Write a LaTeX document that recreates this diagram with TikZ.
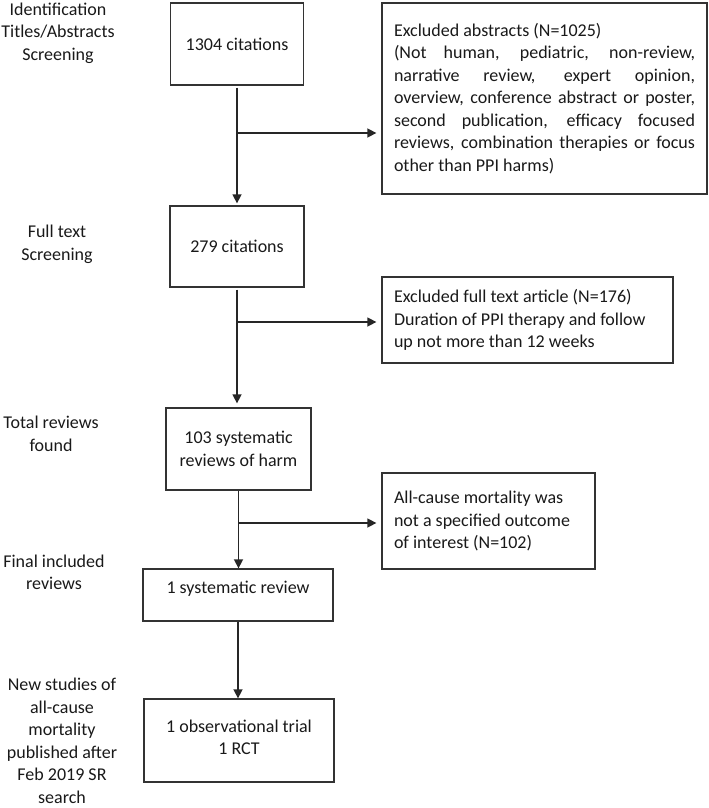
\documentclass[tikz,border=0pt]{standalone}
\usepackage{fontspec}
\setmainfont{Carlito}
\usetikzlibrary{arrows.meta}
\newcommand{\jl}[1]{\makebox[301pt][s]{\spaceskip=0.226em plus 1fil\relax #1}}
\begin{document}
\begin{tikzpicture}[x=1pt,y=-1pt,
  every node/.style={font=\fontsize{18pt}{22.5pt}\selectfont, text=black!90},
  box/.style={draw=black!80, line width=1.3pt, inner sep=0pt, align=center},
  lab/.style={align=center, inner sep=0pt},
  arr/.style={draw=black!85, line width=1.5pt, -{Triangle[length=9pt,width=9pt]}}]
\useasboundingbox (0,0) rectangle (709,808);
% left labels
\node[lab] (l1) at (58,33) {Identification\\Titles/Abstracts\\Screening};
\node[lab] (l2) at (57,244.5) {Full text\\Screening};
\node[lab] (l3) at (51,434) {Total reviews\\found};
\node[lab] (l4) at (54,572.5) {Final included\\reviews};
\node[lab] (l5) at (62,741) {New studies of\\all-cause\\mortality\\published after\\Feb 2019 SR\\search};
% main boxes
\node[box, minimum width=133pt, minimum height=82pt] (n1) at (237,44) {1304 citations};
\node[box, minimum width=134pt, minimum height=81pt] (n2) at (237,246.5) {279 citations};
\node[box, minimum width=145pt, minimum height=82pt] (n3) at (238.5,449) {103 systematic\\reviews of harm};
\node[box, minimum width=190pt, minimum height=52pt] (n4) at (238,595) {\raisebox{16pt}{1 systematic review}};
\node[box, minimum width=190pt, minimum height=83pt] (n5) at (239,740.5) {\raisebox{21pt}{\begin{tabular}{@{}c@{}}1 observational trial\\1 RCT\end{tabular}}};
% exclusion boxes
\node[box, minimum width=325pt, minimum height=191pt, text width=301pt, align=left] (e1) at (544.5,98.5)
 {\spaceskip=0pt\relax Excluded abstracts (N=1025)\\
  \jl{(Not human, pediatric, non-review,}\\
  \jl{narrative review, expert opinion,}\\
  \jl{overview, conference abstract or poster,}\\
  \jl{second publication, efficacy focused}\\
  \jl{reviews, combination therapies or focus}\\
  other than PPI harms)};
\node[box, minimum width=291pt, minimum height=86pt, text width=267pt, align=left] (e2) at (527.5,320)
 {\spaceskip=0pt\relax Excluded full text article (N=176)\\Duration of PPI therapy and follow\\up not more than 12 weeks};
\node[box, minimum width=213pt, minimum height=96pt, text width=189pt, align=left] (e3) at (488.5,521)
 {\spaceskip=0pt\relax All-cause mortality was\\not a specified outcome\\of interest (N=102)};
% connectors
\draw[arr, shorten <=2pt, shorten >=2pt] (n1.south) -- (n1.south |- n2.north);
\coordinate (j1) at (n1.south |- 0,133);
\draw[arr, shorten >=5pt] (j1) -- (j1 -| e1.west);
\draw[arr, shorten <=2pt, shorten >=4pt] (n2.south) -- (n2.south |- n3.north);
\coordinate (j2) at (n2.south |- 0,322);
\draw[arr, shorten >=5pt] (j2) -- (j2 -| e2.west);
\draw[arr] (n3.south) -- (n3.south |- n4.north);
\coordinate (j3) at (n3.south |- 0,523);
\draw[arr, shorten >=5pt] (j3) -- (j3 -| e3.west);
\draw[arr] (n4.south) -- (n4.south |- n5.north);
\end{tikzpicture}
\end{document}
